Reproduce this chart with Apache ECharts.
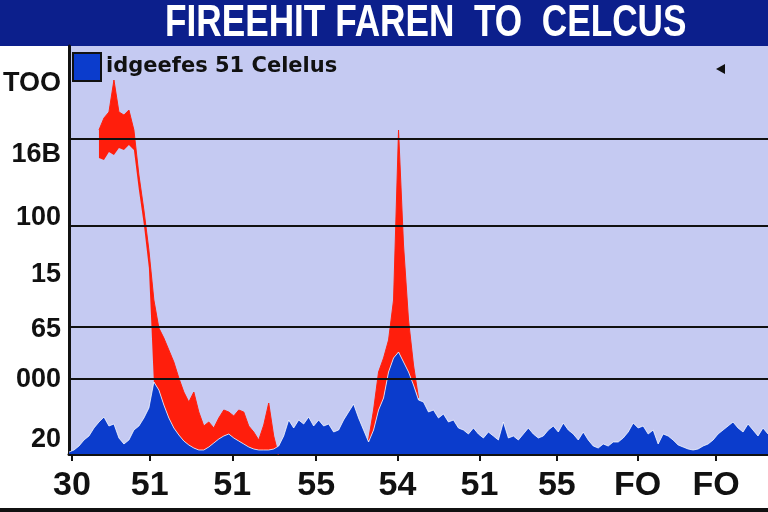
<!DOCTYPE html>
<html>
<head>
<meta charset="utf-8">
<script src="https://cdn.jsdelivr.net/npm/echarts@6/dist/echarts.min.js"></script>
<style>
  html, body { margin: 0; padding: 0; background: #fff; }
  #chart { width: 768px; height: 512px; }
</style>
</head>
<body>
<div id="chart"></div>
<script>
// blue series (sampled along x, one step per index)
const blueValues = [
  2, 4, 8, 14, 18, 26, 32, 37, 28, 30,
  16, 10, 14, 24, 28, 36, 46, 72, 64, 49,
  36, 26, 19, 13, 9, 6, 4, 4, 7, 11,
  15, 18, 20, 16, 13, 10, 7, 5, 4, 4,
  4, 5, 8, 18, 34, 26, 34, 30, 37, 28,
  34, 28, 30, 22, 24, 34, 42, 50, 36, 24,
  12, 24, 44, 56, 82, 96, 102, 92, 82, 69,
  54, 52, 42, 44, 36, 40, 32, 34, 26, 24,
  20, 26, 20, 16, 22, 18, 14, 32, 16, 18,
  14, 20, 26, 20, 16, 18, 24, 28, 22, 31,
  24, 20, 14, 22, 14, 8, 6, 10, 8, 12,
  12, 16, 22, 31, 26, 28, 20, 24, 10, 20,
  18, 14, 9, 7, 5, 4, 5, 8, 10, 14,
  20, 24, 28, 32, 26, 22, 30, 24, 18, 26,
  20
]
// red band: top edge, only where it shows
const redTop = [
  null, null, null, null, null, null, 324, 336, 342, 374,
  342, 339, 344, 324, 279, 244, 204, 154, 126, 116,
  104, 92, 76, 62, 52, 62, 42, 28, 32, 26,
  36, 44, 42, 38, 44, 42, 28, 22, 14, 29,
  51, 18, 6, null, null, null, null, null, null, null,
  null, null, null, null, null, null, null, null, null, null,
  14, 44, 82, 96, 114, 154, 324, 209, 134, 89,
  56
]
// red band: bottom edge where it floats above the blue (else it sits on the blue)
const redBottom = [
  null, null, null, null, null, null, 296, 294, 302, 299,
  306, 304, 309, 304, 264, 229, 186
]
const gridLineValues = [315, 228, 127, 75]
const yTickValues = [14, 74, 124, 179, 236, 299, 370]
const yTickLabels = ['20', '000', '65', '15', '100', '16B', 'TOO']
const xTickValues = [0.6, 16.15, 32.7, 49.5, 65.8, 82.2, 97.7, 113.9, 129.6]
const xTickLabels = ['30', '51', '51', '55', '54', '51', '55', 'FO', 'FO']

const steps = blueValues.map((v, i) => String(i))
const redBase = redTop.map((t, i) => t == null ? null : (redBottom[i] != null ? redBottom[i] : blueValues[i]))
const redBand = redTop.map((t, i) => t == null ? null : t - redBase[i])

const chart = echarts.init(document.getElementById('chart'))
chart.setOption({
  animation: false,
  backgroundColor: '#ffffff',
  graphic: [
    { type: 'rect', z: -1, shape: { x: 0, y: 0, width: 768, height: 46 }, style: { fill: '#0c1f8c' } },
    {
      type: 'text',
      z: 10,
      x: 165,
      y: 24,
      scaleX: 0.8,
      style: {
        text: 'FIREEHIT FAREN  TO  CELCUS',
        fill: '#ffffff',
        font: 'bold 44px "Liberation Sans", Arial, sans-serif',
        verticalAlign: 'middle'
      }
    },
    { type: 'rect', z: 10, shape: { x: 0, y: 508, width: 768, height: 4 }, style: { fill: '#111' } },
    { type: 'polygon', z: 10, shape: { points: [[716, 69], [725, 64], [725, 74]] }, style: { fill: '#111' } }
  ],
  legend: {
    data: ['idgeefes 51 Celelus'],
    left: 67,
    top: 47,
    icon: 'rect',
    itemWidth: 28,
    itemHeight: 28,
    itemStyle: { borderColor: '#111', borderWidth: 2 },
    textStyle: {
      color: '#111',
      fontSize: 21,
      fontWeight: 'bold',
      fontFamily: 'DejaVu Sans, sans-serif'
    }
  },
  grid: {
    left: 66,
    right: 0,
    top: 46,
    bottom: 58,
    show: true,
    backgroundColor: '#c5caf2',
    borderWidth: 0
  },
  xAxis: [
    {
      type: 'category',
      data: steps,
      boundaryGap: false,
      show: false
    },
    {
      type: 'value',
      min: 0,
      max: 140,
      position: 'bottom',
      axisLine: { show: true, onZero: false, lineStyle: { color: '#111', width: 3 } },
      axisTick: { show: true, customValues: xTickValues, length: 7, lineStyle: { color: '#111', width: 2 } },
      splitLine: { show: false },
      axisLabel: {
        customValues: xTickValues,
        margin: 15,
        color: '#111',
        fontSize: 34,
        fontWeight: 'bold',
        fontFamily: 'Liberation Sans, Arial, sans-serif',
        formatter: function (value) {
          return xTickLabels[xTickValues.indexOf(value)]
        }
      }
    }
  ],
  yAxis: {
    type: 'value',
    min: 0,
    max: 408,
    axisLine: { show: true, lineStyle: { color: '#111', width: 3 } },
    axisTick: { show: false },
    splitLine: { show: false },
    axisLabel: {
      customValues: yTickValues,
      margin: 8,
      color: '#111',
      fontSize: 27,
      fontWeight: 'bold',
      fontFamily: 'Liberation Sans, Arial, sans-serif',
      formatter: function (value) {
        return yTickLabels[yTickValues.indexOf(value)]
      }
    }
  },
  series: [
    {
      name: 'redBase',
      type: 'line',
      stack: 'red',
      z: 2,
      symbol: 'none',
      data: redBase,
      lineStyle: { opacity: 0 },
      markLine: {
        silent: true,
        symbol: 'none',
        label: { show: false },
        lineStyle: { color: '#111', width: 2, type: 'solid' },
        data: gridLineValues.map(v => ({ yAxis: v }))
      }
    },
    {
      name: 'red',
      type: 'line',
      stack: 'red',
      z: 2,
      symbol: 'none',
      data: redBand,
      lineStyle: { color: '#ff2210', width: 1 },
      areaStyle: { color: '#ff1e0c', opacity: 1 }
    },
    {
      name: 'idgeefes 51 Celelus',
      type: 'line',
      z: 3,
      symbol: 'none',
      data: blueValues,
      itemStyle: { color: '#0b3ccc' },
      lineStyle: { color: 'rgba(255,255,255,0.75)', width: 1 },
      areaStyle: { color: '#0b3ccc', opacity: 1 }
    }
  ]
})
</script>
</body>
</html>
